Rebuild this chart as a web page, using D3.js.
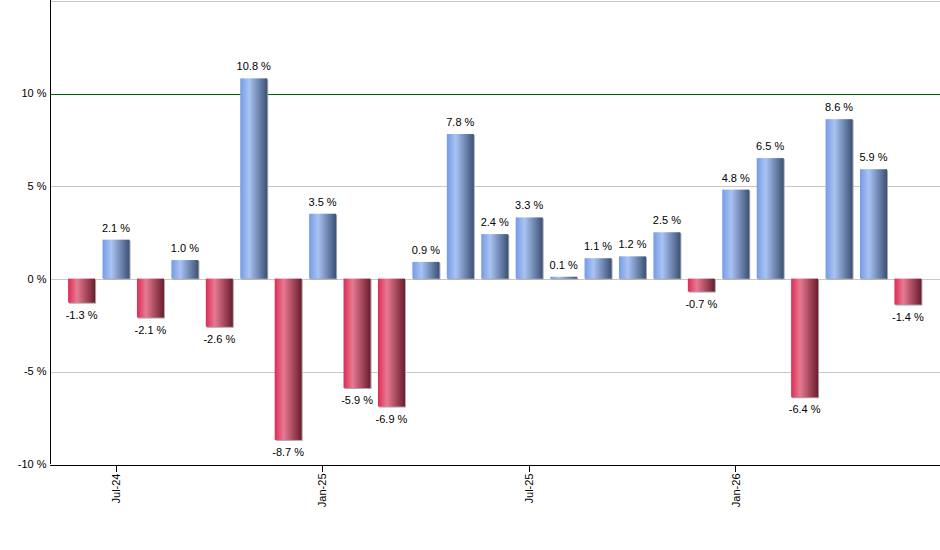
<!DOCTYPE html>
<head>
<meta charset="utf-8">
<style>
body {
  margin: 0;
  background: #fff;
  font: 11px "Liberation Sans", Arial, sans-serif;
}
.axis path, .axis line {
  fill: none;
  stroke: #000;
  shape-rendering: crispEdges;
}
.grid line {
  stroke: #c8c8c8;
  shape-rendering: crispEdges;
}
</style>
<script src="https://cdn.jsdelivr.net/npm/d3@7"></script>
</head>
<body>
<div id="chart"></div>
<script>

var months = ["Jun-24","Jul-24","Aug-24","Sep-24","Oct-24","Nov-24","Dec-24",
  "Jan-25","Feb-25","Mar-25","Apr-25","May-25","Jun-25","Jul-25","Aug-25",
  "Sep-25","Oct-25","Nov-25","Dec-25","Jan-26","Feb-26","Mar-26","Apr-26",
  "May-26","Jun-26"];
var returns = [-1.3, 2.1, -2.1, 1.0, -2.6, 10.8, -8.7, 3.5, -5.9, -6.9, 0.9, 7.8,
  2.4, 3.3, 0.1, 1.1, 1.2, 2.5, -0.7, 4.8, 6.5, -6.4, 8.6, 5.9, -1.4];
var tickMonths = ["Jul-24", "Jan-25", "Jul-25", "Jan-26"];
var yTicks = [-10, -5, 0, 5, 10];
var gridValues = [-5, 0, 5, 15];
var benchmark = 10;

var margin = {top: 0.5, right: 0, bottom: 86, left: 49.5},
    width = 940 - margin.left - margin.right,
    height = 464 - margin.top;

var svg = d3.select("#chart").append("svg")
    .attr("width", 940)
    .attr("height", 550)
  .append("g")
    .attr("transform", "translate(" + margin.left + "," + margin.top + ")");

var defs = svg.append("defs");
function grad(id, c0, c1, c2) {
  var g = defs.append("linearGradient").attr("id", id)
      .attr("x1", "0%").attr("x2", "100%").attr("y1", "0%").attr("y2", "0%");
  g.append("stop").attr("offset", "0%").attr("stop-color", c0);
  g.append("stop").attr("offset", "33%").attr("stop-color", c1);
  g.append("stop").attr("offset", "100%").attr("stop-color", c2);
}
grad("gpos", "#759be6", "#a9c3f3", "#3b5175");
grad("gneg", "#dc2c55", "#e77a92", "#6b1c2e");

var x = d3.scaleBand().domain(months).range([0, width])
    .paddingInner(0.216).paddingOuter(0.54);
var y = d3.scaleLinear().domain([-10, 15]).range([height, 0]);

// grid
svg.append("g").attr("class", "grid")
  .selectAll("line").data(gridValues).enter().append("line")
    .attr("x1", 0).attr("x2", width)
    .attr("y1", function(d) { return Math.round(y(d)) + 0.5; })
    .attr("y2", function(d) { return Math.round(y(d)) + 0.5; });

svg.append("line")
    .attr("x1", 0).attr("x2", width)
    .attr("y1", Math.round(y(benchmark)) + 0.5)
    .attr("y2", Math.round(y(benchmark)) + 0.5)
    .attr("stroke", "#006400")
    .attr("shape-rendering", "crispEdges");

// bar shadows
svg.selectAll(".shadow").data(returns).enter().append("rect")
    .attr("class", "shadow")
    .attr("x", function(d, i) { return x(months[i]) + 1; })
    .attr("y", function(d) { return Math.min(y(d), y(0)) + 1; })
    .attr("width", x.bandwidth())
    .attr("height", function(d) { return Math.abs(y(d) - y(0)); })
    .attr("fill", "#a8a8a8");

svg.selectAll(".bar").data(returns).enter().append("rect")
    .attr("class", "bar")
    .attr("x", function(d, i) { return x(months[i]); })
    .attr("y", function(d) { return Math.min(y(d), y(0)); })
    .attr("width", x.bandwidth())
    .attr("height", function(d) { return Math.abs(y(d) - y(0)); })
    .attr("fill", function(d) { return d >= 0 ? "url(#gpos)" : "url(#gneg)"; });

svg.selectAll(".lbl").data(returns).enter().append("text")
    .attr("class", "lbl")
    .attr("x", function(d, i) { return x(months[i]) + x.bandwidth() / 2; })
    .attr("y", function(d) { return d >= 0 ? y(d) - 8 : y(d) + 16; })
    .attr("text-anchor", "middle")
    .attr("fill", "#000")
    .text(function(d) { return d.toFixed(1) + " %"; });

// axes
var yAxis = svg.append("g").attr("class", "axis")
    .call(d3.axisLeft(y).tickValues(yTicks).tickSize(0).tickPadding(3)
      .tickFormat(function(d) { return d + " %"; }));
yAxis.select(".domain").attr("d", "M0.5," + (y(-10)) + "V" + (-margin.top));
yAxis.selectAll("text").style("font", "11px 'Liberation Sans', Arial, sans-serif");

var xAxis = svg.append("g").attr("class", "axis")
    .attr("transform", "translate(0," + Math.round(height) + ")")
    .call(d3.axisBottom(x).tickValues(tickMonths).tickSizeOuter(0).tickSize(7).tickPadding(2));
xAxis.select(".domain").attr("d", "M0," + 0.5 + "H" + width);
xAxis.selectAll("text")
    .style("font", "11px 'Liberation Sans', Arial, sans-serif")
    .attr("transform", "rotate(-90)")
    .attr("text-anchor", "end")
    .attr("x", -9)
    .attr("y", 0)
    .attr("dy", "0.35em");

</script>
</body>
